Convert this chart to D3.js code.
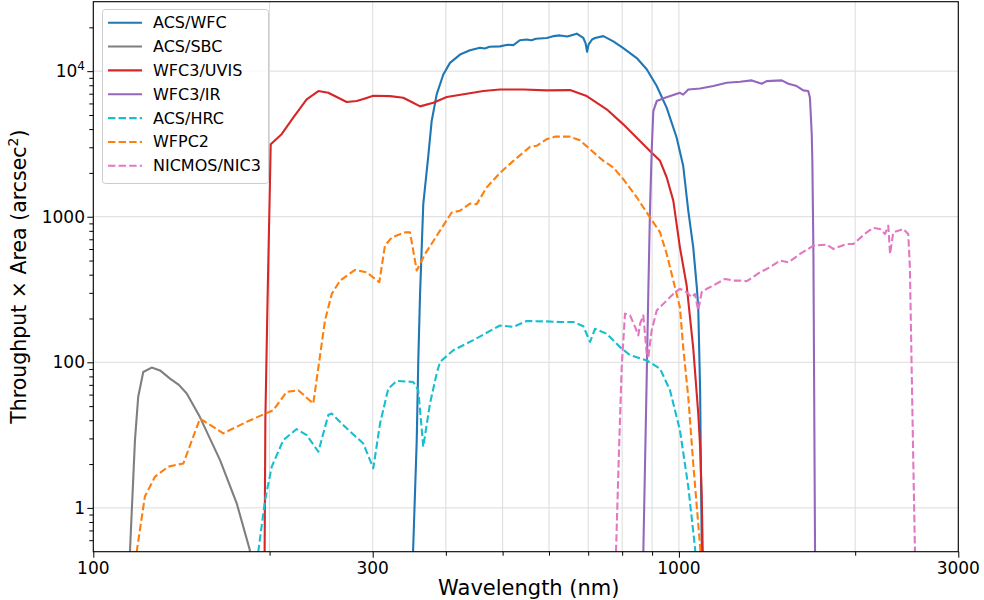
<!DOCTYPE html>
<html>
<head>
<meta charset="utf-8">
<script src="https://cdn.jsdelivr.net/npm/d3@7"></script>
<style>
  body { margin: 0; background: #fff; }
  svg text { font-family: "DejaVu Sans", sans-serif; fill: #000; }
</style>
</head>
<body>
<div id="vis-holder"></div>
<script>
// Data: [wavelength (nm), throughput x area]
const acsWfc = [[350,3],[351.6,5],[356.7,29],[358.9,103],[361.4,295],[366,1220],[373.3,2620],[378.3,4550],[385.8,6930],[396,9490],[406.5,11400],[422.9,13000],[439.8,13900],[457.5,14500],[466,14300],[475,14700],[494.8,14800],[510,15200],[521.6,15100],[535,16300],[549.6,16500],[560,16300],[570,16700],[594.7,16900],[610,17400],[626.6,17600],[645,17300],[669.1,18100],[686.7,16900],[693,15500],[697,13600],[701,15200],[710.7,16500],[719,16900],[743,17400],[772.7,16000],[803.6,14400],[847.2,12300],[881.1,10300],[916.5,7900],[953.3,5600],[991.3,3490],[1017,2240],[1037.5,1100],[1058,616],[1073,328],[1079,239],[1087,64],[1094,5.4],[1097,3]];
const acsSbc = [[114,3],[115.5,5],[117.8,29.2],[119.3,57.8],[121.7,85.8],[125.8,92],[130,88],[135.2,77.3],[140,70],[144.4,61],[152,42.2],[164.6,21.3],[175.7,10.8],[185,5.15],[188,3]];
const wfc3Uvis = [[196,3],[196.7,40],[198.4,266],[200.9,3150],[209.7,3690],[219.5,4790],[231.4,6400],[242.3,7300],[251.9,7100],[262,6570],[270.8,6140],[281.7,6230],[291.1,6500],[300.7,6770],[321.2,6740],[338.3,6570],[349.7,6140],[361.4,5730],[380.7,6070],[401.4,6640],[434.2,6990],[463.5,7300],[494.8,7490],[542.5,7490],[594.7,7380],[651.6,7410],[696,6740],[752.8,5470],[803.6,4310],[847.2,3490],[892.5,2830],[928.5,2420],[953.3,1860],[978.2,1290],[1004,616],[1031,337],[1058,125],[1079,44.5],[1087,26.3],[1094,12],[1098,5.2],[1100,3]];
const wfc3Ir = [[868,3],[869.5,5],[881.1,79],[886.8,311],[892.5,1100],[898.5,2830],[904.3,5320],[916.5,6230],[946.9,6570],[978.2,6850],[1004,7100],[1017,6900],[1037.5,7490],[1087,7610],[1145,7900],[1207,8320],[1272,8450],[1332,8640],[1385,8190],[1412,8540],[1498,8640],[1538,8190],[1589,7900],[1631,7380],[1663,7300],[1674,6570],[1686,3690],[1690,2420],[1697,585],[1708,5],[1710,3]];
const acsHrc = [[190,3],[191.3,5],[196.5,11.3],[201.7,19.2],[211.1,29.2],[222.5,34.8],[231.4,31.6],[242.3,24.3],[251.9,43.4],[255.3,44.5],[270.8,35.2],[289.1,27.7],[300.7,18.7],[308.8,38],[319,66],[329.7,74.5],[351.9,73.3],[358.9,64.3],[366,26.3],[375.8,52.1],[385.8,83.7],[390.9,100.5],[411.9,121],[445.6,142],[494.8,179],[521.6,175],[549.6,192],[594.7,191],[626.6,189],[660.2,189],[686.7,177],[705.1,138],[719,170],[752.8,157],[793.5,127],[825.3,112],[881.1,103],[928.5,90.5],[965.6,64.3],[1004,34.2],[1037.5,14],[1065,5.4],[1075,3]];
const wfpc2 = [[118,3],[118.6,5],[122.5,12],[127.5,16.4],[134.3,19.2],[142.5,20.2],[152.1,41.1],[166.7,32.5],[182.8,39],[197.8,44.9],[203,46.9],[213.9,62.6],[223.9,64.3],[237.5,52.1],[243.8,110],[248.7,194],[255.4,295],[263.8,364],[279.9,431],[293,415],[307.9,355],[314.8,633],[323.3,721],[340.6,781],[347.4,781],[356.7,427],[368.6,555],[390.9,802],[409.3,1070],[422.9,1100],[439.8,1230],[451.5,1220],[469.6,1590],[494.8,2000],[521.6,2420],[556.9,3020],[571.8,3070],[594.7,3410],[614.3,3550],[651.6,3550],[677.7,3350],[705.1,2910],[743,2420],[772.7,2180],[803.6,1810],[847.2,1360],[892.5,989],[928.5,781],[953.3,555],[978.2,364],[1004,239],[1017,127],[1037.5,57.8],[1058,20.2],[1087,5.4],[1095,3]];
const nic3 = [[778,3],[780.9,5],[790.2,25],[798.6,93],[809.1,216],[825.3,210],[841.6,175],[852.6,153],[858.4,184],[869.5,210],[881.1,115],[886.8,109],[898.5,166],[916.5,227],[940.6,252],[978.2,295],[1004,320],[1031,303],[1052,280],[1065,295],[1079,227],[1094,303],[1116,320],[1145,337],[1199,374],[1239,364],[1272,364],[1306,361],[1376,415],[1430,450],[1488,500],[1538,486],[1610,555],[1697,633],[1788,643],[1835,601],[1934,650],[1986,650],[2093,781],[2148,837],[2205,824],[2249,761],[2278,868],[2294,555],[2323,781],[2370,802],[2416,824],[2464,761],[2480,450],[2497,93],[2515,18.2],[2530,5],[2535,3]];

const seriesNames = ["ACS/WFC", "ACS/SBC", "WFC3/UVIS", "WFC3/IR", "ACS/HRC", "WFPC2", "NICMOS/NIC3"];
const seriesData = [acsWfc, acsSbc, wfc3Uvis, wfc3Ir, acsHrc, wfpc2, nic3];
const seriesColors = ["#1f77b4", "#7f7f7f", "#d62728", "#9467bd", "#17becf", "#ff7f0e", "#e377c2"];
const seriesDashed = [false, false, false, false, true, true, true];

const xTicks = [100, 300, 1000, 3000];
const xTickLabels = ["100", "300", "1000", "3000"];
const xMinor = [200, 400, 500, 600, 700, 800, 900, 2000];
const yTicks = [10, 100, 1000, 10000];
const yTickLabels = ["1", "100", "1000", "10|4"];
const yMinor = [6, 7, 8, 9, 20, 30, 40, 50, 60, 70, 80, 90, 200, 300, 400, 500, 600, 700, 800, 900,
                2000, 3000, 4000, 5000, 6000, 7000, 8000, 9000, 20000];

const width = 984, height = 600;
const margin = { top: 1.7, right: 984 - 958.3, bottom: 600 - 551.7, left: 93.3 };

const svg = d3.select("#vis-holder")
  .append("svg")
  .attr("width", width)
  .attr("height", height);

const x = d3.scaleLog().domain([100, 3000]).range([margin.left, width - margin.right]);
const y = d3.scaleLog().domain([5, 30000]).range([height - margin.bottom, margin.top]);

// grid
svg.append("g")
  .selectAll("line.vgrid")
  .data(xTicks.concat(xMinor))
  .enter().append("line")
    .attr("x1", d => x(d)).attr("x2", d => x(d))
    .attr("y1", margin.top).attr("y2", height - margin.bottom)
    .attr("stroke", "#dcdcdc").attr("stroke-width", 1);

svg.append("g")
  .selectAll("line.hgrid")
  .data(yTicks)
  .enter().append("line")
    .attr("x1", margin.left).attr("x2", width - margin.right)
    .attr("y1", d => y(d)).attr("y2", d => y(d))
    .attr("stroke", "#dcdcdc").attr("stroke-width", 1);

// clip
svg.append("clipPath").attr("id", "plot-clip")
  .append("rect")
    .attr("x", margin.left).attr("y", margin.top)
    .attr("width", width - margin.left - margin.right)
    .attr("height", height - margin.top - margin.bottom);

const line = d3.line()
  .x(d => x(d[0]))
  .y(d => y(d[1]));

// curves
svg.append("g")
  .attr("clip-path", "url(#plot-clip)")
  .selectAll("path")
  .data(seriesData)
  .enter().append("path")
    .attr("d", d => line(d))
    .attr("fill", "none")
    .attr("stroke", (d, i) => seriesColors[i])
    .attr("stroke-width", 2.1)
    .attr("stroke-linejoin", "round")
    .attr("stroke-dasharray", (d, i) => seriesDashed[i] ? "7.4,3.2" : null);

// axes (tick marks only, labels drawn below)
svg.append("g")
  .attr("transform", `translate(0,${height - margin.bottom})`)
  .call(d3.axisBottom(x).tickValues(xTicks).tickSize(6).tickFormat(""))
  .call(g => g.select(".domain").remove());
svg.append("g")
  .attr("transform", `translate(0,${height - margin.bottom})`)
  .call(d3.axisBottom(x).tickValues(xMinor).tickSize(4).tickFormat(""))
  .call(g => g.select(".domain").remove());
svg.append("g")
  .attr("transform", `translate(${margin.left},0)`)
  .call(d3.axisLeft(y).tickValues(yTicks).tickSize(6).tickFormat(""))
  .call(g => g.select(".domain").remove());
svg.append("g")
  .attr("transform", `translate(${margin.left},0)`)
  .call(d3.axisLeft(y).tickValues(yMinor).tickSize(4).tickFormat(""))
  .call(g => g.select(".domain").remove());
svg.selectAll(".tick line").attr("stroke", "#000").attr("stroke-width", 1);

// frame
svg.append("rect")
  .attr("x", margin.left).attr("y", margin.top)
  .attr("width", width - margin.left - margin.right)
  .attr("height", height - margin.top - margin.bottom)
  .attr("fill", "none").attr("stroke", "#000").attr("stroke-width", 1.1);

// x tick labels
svg.append("g")
  .selectAll("text")
  .data(xTicks)
  .enter().append("text")
    .attr("x", d => x(d))
    .attr("y", 573.5)
    .attr("text-anchor", "middle")
    .attr("font-size", "17px")
    .text((d, i) => xTickLabels[i]);

// y tick labels
yTicks.forEach((d, i) => {
  const parts = yTickLabels[i].split("|");
  const t = svg.append("text")
    .attr("x", 85)
    .attr("y", y(d) + 6)
    .attr("text-anchor", "end")
    .attr("font-size", "17px")
    .text(parts[0]);
  if (parts.length > 1) {
    t.append("tspan")
      .attr("dy", -7)
      .attr("font-size", "12px")
      .text(parts[1]);
  }
});

// axis titles
svg.append("text")
  .attr("x", (margin.left + width - margin.right) / 2 + 3)
  .attr("y", 595)
  .attr("text-anchor", "middle")
  .attr("font-size", "21px")
  .text("Wavelength (nm)");

const yTitle = svg.append("text")
  .attr("transform", `translate(26,${(margin.top + height - margin.bottom) / 2}) rotate(-90)`)
  .attr("text-anchor", "middle")
  .attr("font-size", "20.5px");
yTitle.append("tspan").text("Throughput × Area (arcsec");
yTitle.append("tspan").attr("dy", -8).attr("font-size", "14px").text("2");
yTitle.append("tspan").attr("dy", 8).text(")");

// legend
const legend = svg.append("g");
legend.append("rect")
  .attr("x", 102.5).attr("y", 9.5)
  .attr("width", 166).attr("height", 174)
  .attr("rx", 3)
  .attr("fill", "#fff").attr("fill-opacity", 0.8)
  .attr("stroke", "#cccccc");

seriesNames.forEach((name, i) => {
  const ly = 22.7 + i * 23.85;
  legend.append("line")
    .attr("x1", 108).attr("x2", 142)
    .attr("y1", ly).attr("y2", ly)
    .attr("stroke", seriesColors[i])
    .attr("stroke-width", 2.1)
    .attr("stroke-dasharray", seriesDashed[i] ? "7.4,3.2" : null);
  legend.append("text")
    .attr("x", 153)
    .attr("y", ly + 5.5)
    .attr("font-size", "16px")
    .text(name);
});
</script>
</body>
</html>
